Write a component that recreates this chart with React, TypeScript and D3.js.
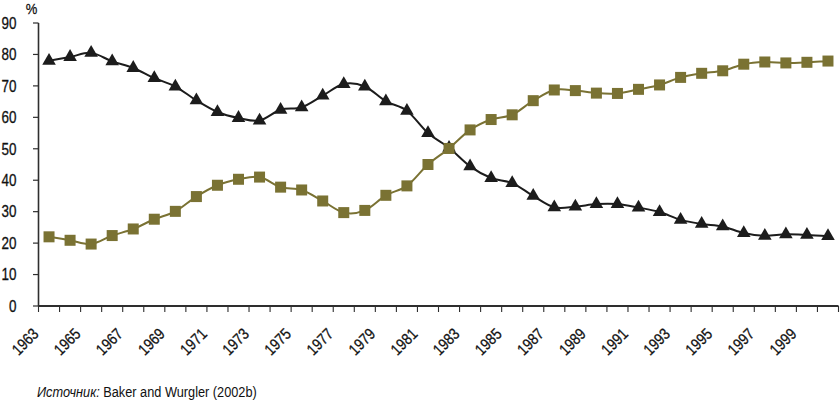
import React from "react";
import * as d3 from "d3";

const years: number[] = [
  1963, 1964, 1965, 1966, 1967, 1968, 1969, 1970, 1971, 1972, 1973, 1974, 1975,
  1976, 1977, 1978, 1979, 1980, 1981, 1982, 1983, 1984, 1985, 1986, 1987, 1988,
  1989, 1990, 1991, 1992, 1993, 1994, 1995, 1996, 1997, 1998, 1999, 2000,
];

const triangleSeries: number[] = [
  78.0, 79.2, 80.5, 77.8, 75.7, 72.5, 69.8, 65.4, 61.7, 59.8, 59.0, 62.4, 63.2,
  66.9, 70.6, 69.8, 65.1, 62.1, 55.0, 50.3, 44.4, 40.7, 39.1, 35.0, 31.4, 31.6,
  32.4, 32.4, 31.3, 29.9, 27.4, 26.1, 25.3, 23.2, 22.3, 22.8, 22.6, 22.2,
];

const squareSeries: number[] = [
  22.0, 20.9, 19.7, 22.4, 24.5, 27.6, 30.1, 34.8, 38.4, 40.3, 41.0, 37.8, 36.9,
  33.4, 29.7, 30.4, 35.2, 38.2, 45.0, 50.1, 56.0, 59.3, 60.8, 65.3, 68.7, 68.5,
  67.7, 67.6, 68.9, 70.3, 72.7, 74.0, 74.8, 76.9, 77.6, 77.3, 77.5, 77.9,
];

const yTicks: number[] = [0, 10, 20, 30, 40, 50, 60, 70, 80, 90];
const xTickLabels: number[] = years.filter((y) => (y - 1963) % 2 === 0 && y <= 1999);

const sourceItalic = "Источник:";
const sourceRest = " Baker and Wurgler (2002b)";

const W = 840;
const H = 411;
const FONT = "'Liberation Sans', Arial, Helvetica, sans-serif";
const OLIVE = "#7a7233";
const BLACK = "#1c1c1c";
const AXIS = "#2e2e2e";
const TEXT = "#111111";
const SX = 0.84;

export default function App() {
  const x = d3
    .scaleBand<number>()
    .domain(years)
    .range([38.5, 838.5])
    .padding(0);
  const y = d3.scaleLinear().domain([0, 90]).range([306, 23]);
  const cx = (yr: number) => (x(yr) as number) + x.bandwidth() / 2;

  const line = d3
    .line<number>()
    .x((_, i) => cx(years[i]))
    .y((v) => y(v))
    .curve(d3.curveCardinal.tension(0));

  const triPath = d3.symbol().type(d3.symbolTriangle).size(80)() as string;
  const sq = 11;

  const boundaries = years.map((yr) => x(yr) as number).concat([x.range()[1]]);

  return (
    <svg
      width={W}
      height={H}
      style={{ position: "absolute", left: 0, top: 0, background: "#fff" }}
      fontFamily={FONT}
    >
      <rect x={0} y={0} width={W} height={H} fill="#fff" />
      {/* y axis */}
      <line x1={38.5} x2={38.5} y1={y(90)} y2={y(0)} stroke={AXIS} strokeWidth={1.6} />
      {yTicks.map((t) => (
        <g key={t}>
          <line x1={33} x2={38.5} y1={y(t)} y2={y(t)} stroke={AXIS} strokeWidth={1.2} />
          <text
            transform={`translate(16.5,${y(t)}) scale(${SX},1)`}
            dy="0.36em"
            textAnchor="end"
            fontSize={16}
            fill={TEXT}
            stroke={TEXT}
            strokeWidth={0.3}
          >
            {t}
          </text>
        </g>
      ))}
      <text
        transform={`translate(31.5,13.5) scale(${SX},1)`}
        textAnchor="middle"
        fontSize={15.5}
        fill={TEXT}
        stroke={TEXT}
        strokeWidth={0.3}
      >
        %
      </text>
      {/* x axis */}
      {boundaries.map((b, i) => (
        <line key={i} x1={b} x2={b} y1={y(0)} y2={y(0) + 6} stroke={AXIS} strokeWidth={1.1} />
      ))}
      <line x1={38.5} x2={838.5} y1={y(0)} y2={y(0)} stroke={AXIS} strokeWidth={2} />
      {xTickLabels.map((yr) => {
        const ax = cx(yr) - 9.5;
        const ay = 335;
        return (
          <text
            key={yr}
            transform={`translate(${ax},${ay}) rotate(-45) scale(${SX},1)`}
            textAnchor="end"
            fontSize={16}
            fill={TEXT}
            stroke={TEXT}
            strokeWidth={0.3}
          >
            {yr}
          </text>
        );
      })}
      {/* triangle series (drawn first) */}
      <path d={line(triangleSeries) as string} fill="none" stroke={BLACK} strokeWidth={2} />
      {triangleSeries.map((v, i) => (
        <path
          key={"t" + i}
          d={triPath}
          transform={`translate(${cx(years[i])},${y(v)})`}
          fill={BLACK}
        />
      ))}
      {/* square series (on top) */}
      <path d={line(squareSeries) as string} fill="none" stroke={OLIVE} strokeWidth={2} />
      {squareSeries.map((v, i) => (
        <rect
          key={"s" + i}
          x={cx(years[i]) - sq / 2}
          y={y(v) - sq / 2}
          width={sq}
          height={sq}
          fill={OLIVE}
        />
      ))}
      {/* source */}
      <text transform={`translate(37,397) scale(0.88,1)`} fontSize={14.5} fill={TEXT}>
        <tspan fontStyle="italic">{sourceItalic}</tspan>
        <tspan>{sourceRest}</tspan>
      </text>
    </svg>
  );
}
